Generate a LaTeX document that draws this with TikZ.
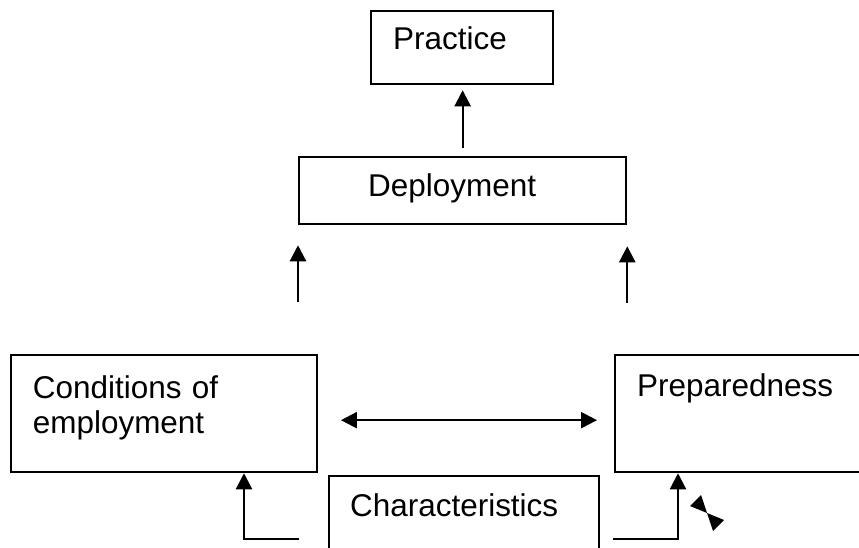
\documentclass[tikz,border=0pt]{standalone}
\usepackage{fontspec}
\setmainfont{Liberation Sans}
\usetikzlibrary{arrows.meta}

\tikzset{
  stagebox/.style={draw, line width=1.7pt, anchor=north west, align=left, inner ysep=0pt,
    font=\fontsize{23.6pt}{26.25pt}\selectfont},
  upar/.style={line width=1.7pt, -{Triangle[length=12pt,width=12pt]}},
  dblar/.style={line width=1.7pt, {Triangle[length=12pt,width=12pt]}-{Triangle[length=12pt,width=12pt]}},
}

\begin{document}
\begin{tikzpicture}[x=0.75pt,y=0.75pt,yscale=-1,xscale=1]
\clip (0,0) rectangle (859,548);

% Boxes
\node[stagebox, inner xsep=16.9pt, text width=103pt, text height=28.5pt, text depth=26pt] (practice) at (369.5,10) {Practice};
\node[stagebox, inner xsep=51.75pt, text width=141.75pt, text height=29.25pt, text depth=21pt] (deploy) at (298,156) {Deployment};
\node[stagebox, inner xsep=16.3pt, text width=196.9pt, text height=32.25pt, text depth=55.5pt] (cond) at (10,354) {Conditions of\\employment};
\node[stagebox, inner xsep=16.5pt, text width=170.25pt, text height=30.75pt, text depth=57pt] (prep) at (614,354) {Preparedness};
\node[stagebox, inner xsep=15.75pt, text width=171pt, text height=30pt, text depth=45pt] (charac) at (328,475) {Characteristics};

% Arrows
\draw[upar, shorten <=6pt, shorten >=4pt] (deploy.north) -- (deploy.north |- practice.south);
\draw[upar, shorten <=39pt, shorten >=15pt] (deploy.south west |- cond.north) -- (deploy.south west);
\draw[upar, shorten <=38.25pt, shorten >=15.75pt] (deploy.south east |- prep.north) -- (deploy.south east);
\draw[dblar, shorten <=17pt, shorten >=12.75pt] ([yshift=4.9pt]cond.east) -- ([yshift=4.9pt]cond.east -| prep.west);

% Feet under the side boxes
\coordinate (cfoot) at (299,539);
\coordinate (cbend) at (244,539);
\draw[upar] (cfoot) -- (cbend) -- (cbend |- cond.south);
\coordinate (pfoot) at (613,539);
\coordinate (pbend) at (678,539);
\draw[upar] (pfoot) -- (pbend) -- (pbend |- prep.south);

% Bow tie
\coordinate (tie) at (707,513);
\fill (tie) -- +(17,7) -- +(6,18) -- cycle;
\fill (tie) -- +(-17,-7) -- +(-6,-18) -- cycle;

\end{tikzpicture}
\end{document}
